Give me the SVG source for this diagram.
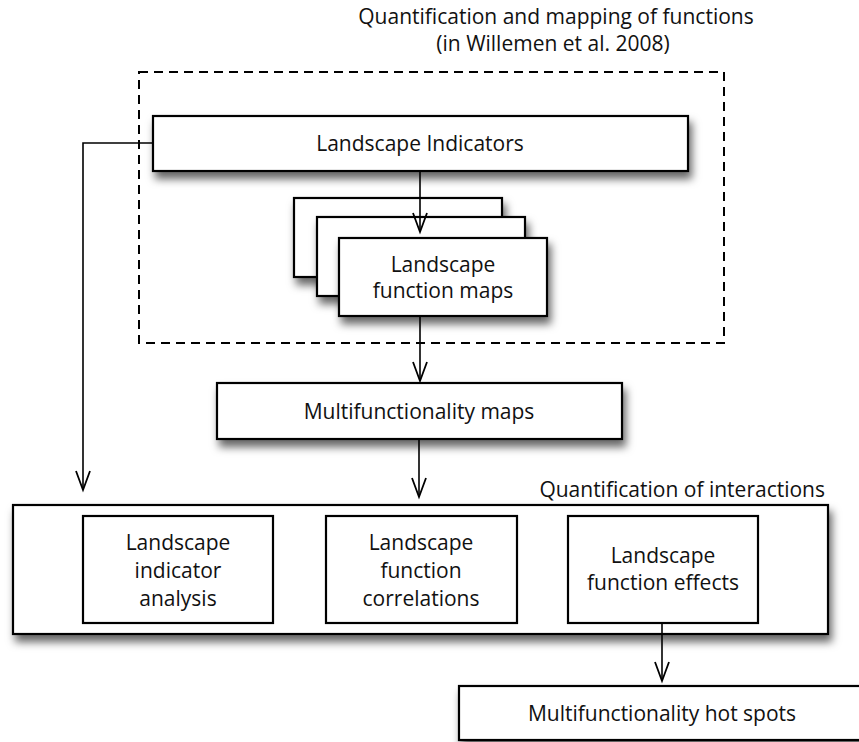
<svg xmlns="http://www.w3.org/2000/svg" width="859" height="742" viewBox="0 0 859 742">
  <style>
    text { font-family: "Open Sans", "Liberation Sans", sans-serif; font-size: 21px; fill: #111111; text-anchor: middle; }
    .box { fill: #ffffff; stroke: #000000; stroke-width: 2.2; }
    .shadow { filter: url(#drop); }
    .frame { fill: none; stroke: #000000; stroke-width: 2; stroke-dasharray: 9 6; }
    .link { fill: none; stroke: #000000; stroke-width: 1.6; marker-end: url(#vee); }
  </style>
  <defs>
    <filter id="drop" x="-10%" y="-20%" width="125%" height="170%">
      <feDropShadow dx="3" dy="7" stdDeviation="4" flood-color="#000000" flood-opacity="0.6"/>
    </filter>
    <!-- open V arrowhead, tip at the end of the path -->
    <marker id="vee" markerUnits="userSpaceOnUse" markerWidth="24" markerHeight="20" viewBox="-21 -10 24 20" refX="0" refY="0" orient="auto" overflow="visible">
      <path d="M -19 -7 L 0 0 L -19 7" fill="none" stroke="#000000" stroke-width="1.8"/>
    </marker>
  </defs>

  <!-- dashed grouping frame and its caption -->
  <g id="mapping-stage">
    <rect class="frame" x="139" y="72" width="585" height="271"/>
    <text x="556" y="24">Quantification and mapping of functions</text>
    <text x="553" y="51">(in Willemen et al. 2008)</text>
  </g>

  <g id="landscape-indicators">
    <rect class="box shadow" x="153" y="116" width="535" height="55"/>
    <text x="420" y="151">Landscape Indicators</text>
  </g>

  <g id="function-maps">
    <rect class="box shadow" x="294" y="198" width="208" height="79"/>
    <rect class="box shadow" x="317" y="217" width="208" height="79"/>
    <rect class="box shadow" x="339" y="238" width="208" height="78"/>
    <text x="443" y="272">Landscape</text>
    <text x="443" y="298">function maps</text>
  </g>

  <g id="multifunctionality-maps">
    <rect class="box shadow" x="217" y="383" width="405" height="56"/>
    <text x="419" y="419">Multifunctionality maps</text>
  </g>

  <g id="interactions">
    <rect class="box shadow" x="13" y="505" width="815" height="129"/>
    <text x="825" y="497" style="text-anchor: end">Quantification of interactions</text>
  </g>

  <g id="indicator-analysis">
    <rect class="box" x="83" y="516" width="190" height="107"/>
    <text x="178" y="550">Landscape</text>
    <text x="178" y="578">indicator</text>
    <text x="178" y="606">analysis</text>
  </g>

  <g id="function-correlations">
    <rect class="box" x="326" y="516" width="191" height="107"/>
    <text x="421" y="550">Landscape</text>
    <text x="421" y="578">function</text>
    <text x="421" y="606">correlations</text>
  </g>

  <g id="function-effects">
    <rect class="box" x="568" y="516" width="190" height="107"/>
    <text x="663" y="563">Landscape</text>
    <text x="663" y="590">function effects</text>
  </g>

  <g id="hot-spots">
    <rect class="box shadow" x="459" y="686" width="410" height="54"/>
    <text x="662" y="721">Multifunctionality hot spots</text>
  </g>

  <!-- connectors -->
  <g id="connectors">
    <path class="link" d="M 153 143 H 83 V 490"/>
    <path class="link" d="M 420 171 V 232"/>
    <path class="link" d="M 420 316 V 381"/>
    <path class="link" d="M 419 439 V 497"/>
    <path class="link" d="M 662 623 V 681"/>
  </g>
</svg>
